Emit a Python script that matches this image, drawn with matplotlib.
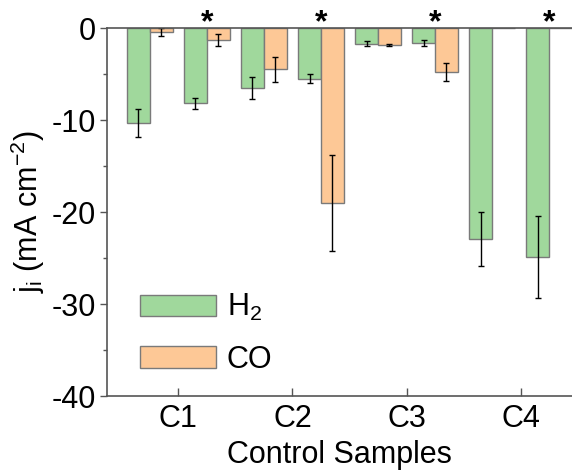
import numpy as np
import matplotlib
matplotlib.use('Agg')
import matplotlib.pyplot as plt

plt.rcParams['font.family'] = 'Liberation Sans'
plt.rcParams['mathtext.fontset'] = 'custom'
plt.rcParams['mathtext.rm'] = 'Liberation Sans'
plt.rcParams['mathtext.it'] = 'Liberation Sans'
plt.rcParams['axes.unicode_minus'] = False

groups = ['C1', 'C2', 'C3', 'C4']
h2 = [-10.3, -8.2, -6.5, -5.5, -1.7, -1.65, -22.9, -24.9]
h2_err = [1.55, 0.6, 1.2, 0.5, 0.3, 0.35, 2.95, 4.5]
co = [-0.45, -1.35, -4.5, -19.0, -1.85, -4.8, 0.0, 0.0]
co_err = [0.4, 0.65, 1.4, 5.2, 0.1, 1.0, 0.0, 0.0]
starred = [2, 4, 6, 8]

green = '#a0d89c'
orange = '#fdc896'
edge = '#7a7a7a'

x = np.arange(1, len(h2) + 1)
w = 0.4

fig = plt.figure(figsize=(5.72, 4.70), dpi=100)
ax = fig.add_axes([0.187, 0.1574, 0.813, 0.783])

ax.bar(x - w / 2, h2, w, color=green, edgecolor=edge, linewidth=1, label='H$_2$')
ax.bar(x + w / 2, co, w, color=orange, edgecolor=edge, linewidth=1, label='CO')

ekw = dict(fmt='none', ecolor='black', elinewidth=1, capsize=2.5, capthick=1)
ax.errorbar(x - w / 2, h2, yerr=h2_err, **ekw)
m = np.array(co) != 0
ax.errorbar((x + w / 2)[m], np.array(co)[m], yerr=np.array(co_err)[m], **ekw)

for s in starred:
    ax.text(s, -0.4, '*', ha='center', va='baseline', fontsize=23, fontweight='bold',
            clip_on=False)

ax.set_xlim(0.25, 8.4)
ax.set_ylim(-40, 0)
ax.set_yticks([0, -10, -20, -30, -40])
ax.set_yticks([-5, -15, -25, -35], minor=True)
ax.set_xticks([1.5, 3.5, 5.5, 7.5])
ax.set_xticklabels(groups)

for side in ['left', 'bottom', 'top']:
    ax.spines[side].set_color('#555555')
    ax.spines[side].set_linewidth(1.2)
ax.spines['right'].set_visible(False)

ax.tick_params(axis='y', which='major', direction='out', length=5, width=1, color='#555555',
               labelsize=22, pad=3)
ax.tick_params(axis='y', which='minor', direction='out', length=3, width=1, color='#555555')
ax.tick_params(axis='x', direction='in', length=6, width=1, color='#555555', labelsize=22, pad=6)

ax.set_xlabel('Control Samples', fontsize=22, labelpad=4)
ax.set_ylabel('j$_\\mathrm{i}$ (mA cm$^{-2}$)', fontsize=22, labelpad=3)

ax.legend(loc='upper left', bbox_to_anchor=(0.07, 0.282), frameon=False, fontsize=22,
          handlelength=2.5, handleheight=0.72, labelspacing=0.7, handletextpad=0.35,
          borderaxespad=0, borderpad=0)

fig.savefig('out.png', dpi=100)
